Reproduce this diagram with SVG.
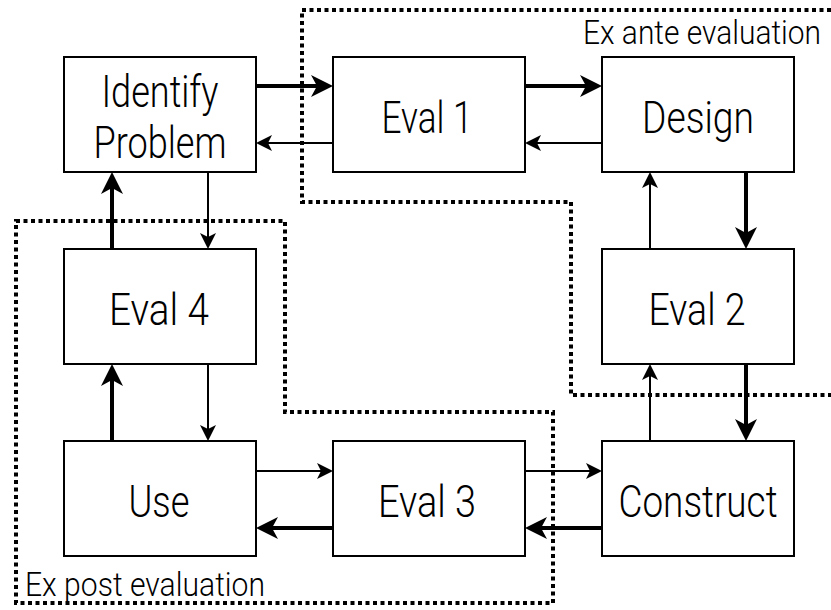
<svg xmlns="http://www.w3.org/2000/svg" width="831" height="610" viewBox="0 0 831 610">
<style>
  .box { fill: #ffffff; stroke: #000000; stroke-width: 2; }
  .lbl { font-family: Roboto, "Liberation Sans", Arial, sans-serif; font-weight: 300; font-size: 44px; fill: #000000; text-anchor: middle; }
  .region { font-family: Roboto, "Liberation Sans", Arial, sans-serif; font-weight: 300; font-size: 34px; fill: #000000; }
  .thick { stroke: #000000; stroke-width: 4; fill: none; marker-end: url(#headThick); }
  .thin { stroke: #000000; stroke-width: 2; fill: none; marker-end: url(#headThin); }
  .dotted { fill: none; stroke: #000000; stroke-width: 4; stroke-dasharray: 4 3.5; }
</style>
<defs>
  <marker id="headThick" markerUnits="userSpaceOnUse" markerWidth="22" markerHeight="22" viewBox="0 -11 22 22" refX="6" refY="0" orient="auto" overflow="visible">
    <path d="M22,0 L0,-11 L6,0 L0,11 Z" fill="#000000"/>
  </marker>
  <marker id="headThin" markerUnits="userSpaceOnUse" markerWidth="16" markerHeight="16" viewBox="0 -8 16 16" refX="4" refY="0" orient="auto" overflow="visible">
    <path d="M16,0 L0,-8 L4,0 L0,8 Z" fill="#000000"/>
  </marker>
</defs>
<rect width="831" height="610" fill="#ffffff"/>

<g id="regions">
  <polyline class="dotted" points="831,10 302,10 302,202 571,202 571,395 831,395"/>
  <polygon class="dotted" points="16,221 285,221 285,412 553,412 553,603 16,603"/>
  <text class="region" x="583" y="44" textLength="238" lengthAdjust="spacingAndGlyphs">Ex ante evaluation</text>
  <text class="region" x="25" y="596" textLength="240" lengthAdjust="spacingAndGlyphs">Ex post evaluation</text>
</g>

<g id="connectors">
  <!-- top row -->
  <line class="thick" x1="256" y1="86" x2="317" y2="86"/>
  <line class="thin" x1="333" y1="143" x2="268" y2="143"/>
  <line class="thick" x1="525" y1="86" x2="586" y2="86"/>
  <line class="thin" x1="602" y1="143" x2="537" y2="143"/>
  <!-- right column -->
  <line class="thick" x1="746" y1="172" x2="746" y2="233"/>
  <line class="thin" x1="650" y1="249" x2="650" y2="184"/>
  <line class="thick" x1="746" y1="364" x2="746" y2="425"/>
  <line class="thin" x1="650" y1="441" x2="650" y2="376"/>
  <!-- bottom row -->
  <line class="thick" x1="602" y1="528" x2="541" y2="528"/>
  <line class="thin" x1="525" y1="471" x2="590" y2="471"/>
  <line class="thick" x1="333" y1="528" x2="272" y2="528"/>
  <line class="thin" x1="256" y1="471" x2="321" y2="471"/>
  <!-- left column -->
  <line class="thick" x1="112" y1="441" x2="112" y2="380"/>
  <line class="thin" x1="208" y1="364" x2="208" y2="429"/>
  <line class="thick" x1="112" y1="249" x2="112" y2="188"/>
  <line class="thin" x1="208" y1="172" x2="208" y2="237"/>
</g>

<g id="identify">
  <rect class="box" x="64" y="57" width="192" height="115"/>
  <text class="lbl" x="160" y="107" textLength="117" lengthAdjust="spacingAndGlyphs">Identify</text>
  <text class="lbl" x="160" y="158" textLength="133" lengthAdjust="spacingAndGlyphs">Problem</text>
</g>
<g id="eval1">
  <rect class="box" x="333" y="57" width="192" height="115"/>
  <text class="lbl" x="427" y="133" textLength="91" lengthAdjust="spacingAndGlyphs">Eval 1</text>
</g>
<g id="design">
  <rect class="box" x="602" y="57" width="192" height="115"/>
  <text class="lbl" x="698" y="133" textLength="112" lengthAdjust="spacingAndGlyphs">Design</text>
</g>
<g id="eval4">
  <rect class="box" x="64" y="249" width="192" height="115"/>
  <text class="lbl" x="159" y="325" textLength="100" lengthAdjust="spacingAndGlyphs">Eval 4</text>
</g>
<g id="eval2">
  <rect class="box" x="602" y="249" width="192" height="115"/>
  <text class="lbl" x="697" y="325" textLength="97" lengthAdjust="spacingAndGlyphs">Eval 2</text>
</g>
<g id="use">
  <rect class="box" x="64" y="441" width="192" height="115"/>
  <text class="lbl" x="159" y="517" textLength="61" lengthAdjust="spacingAndGlyphs">Use</text>
</g>
<g id="eval3">
  <rect class="box" x="333" y="441" width="192" height="115"/>
  <text class="lbl" x="427" y="517" textLength="98" lengthAdjust="spacingAndGlyphs">Eval 3</text>
</g>
<g id="construct">
  <rect class="box" x="602" y="441" width="192" height="115"/>
  <text class="lbl" x="698" y="517" textLength="159" lengthAdjust="spacingAndGlyphs">Construct</text>
</g>
</svg>
